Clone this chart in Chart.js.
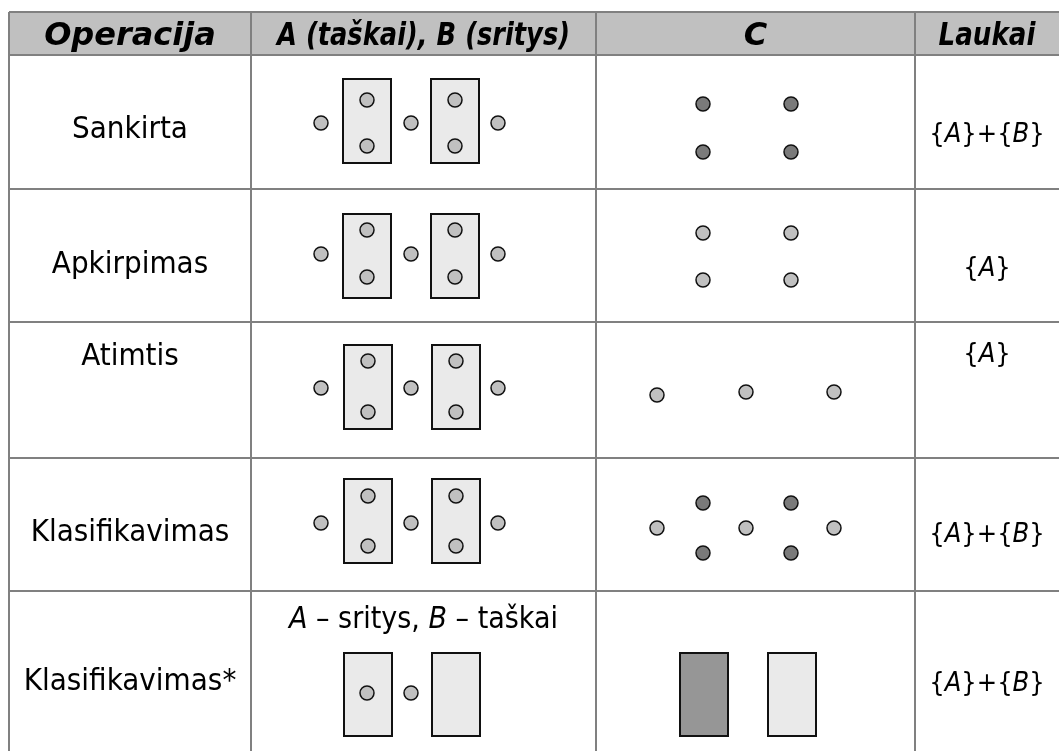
<!DOCTYPE html>
<html>
<head>
<meta charset="utf-8">
<script src="https://cdn.jsdelivr.net/npm/chart.js@4.4.0/dist/chart.umd.min.js"></script>
<style>
  html, body { margin: 0; background: #fff; }
  #wrap { width: 1059px; height: 751px; }
</style>
</head>
<body>
<div id="wrap"><canvas id="diagram"></canvas></div>
<script>
// table content
const headers = ['Operacija', 'A (taškai), B (sritys)', 'C', 'Laukai'];
const operations = ['Sankirta', 'Apkirpimas', 'Atimtis', 'Klasifikavimas', 'Klasifikavimas*'];
const fields = ['{A}+{B}', '{A}', '{A}', '{A}+{B}', '{A}+{B}'];
const note = 'A – sritys, B – taškai';

// table grid (diagram units)
const colEdges = [9, 251, 596, 915, 1059];
const rowEdges = [12, 55, 189, 322, 458, 591, 751];
const headerBaseline = 45;
const headerMaxWidths = [175, 293, 100, 97];
const opBaselines = [138, 273, 365, 541, 690];
const fieldBaselines = [142, 276, 362, 542, 691];
const noteBaseline = 628;

// points (x, y)
const lightPoints = [
    // Sankirta, A/B
    [321, 123], [411, 123], [498, 123], [367, 100], [367, 146], [455, 100], [455, 146],
    // Apkirpimas, A/B
    [321, 254], [411, 254], [498, 254], [367, 230], [367, 277], [455, 230], [455, 277],
    // Atimtis, A/B
    [321, 388], [411, 388], [498, 388], [368, 361], [368, 412], [456, 361], [456, 412],
    // Klasifikavimas, A/B
    [321, 523], [411, 523], [498, 523], [368, 496], [368, 546], [456, 496], [456, 546],
    // Klasifikavimas*, A/B
    [367, 693], [411, 693],
    // Apkirpimas, C
    [703, 233], [791, 233], [703, 280], [791, 280],
    // Atimtis, C
    [657, 395], [746, 392], [834, 392],
    // Klasifikavimas, C
    [657, 528], [746, 528], [834, 528]
];
const darkPoints = [
    [703, 104], [791, 104], [703, 152], [791, 152],
    [703, 503], [791, 503], [703, 553], [791, 553]
];

// regions [x0, y0, x1, y1]
const lightRects = [
    [343, 79, 391, 163], [431, 79, 479, 163],
    [343, 214, 391, 298], [431, 214, 479, 298],
    [344, 345, 392, 429], [432, 345, 480, 429],
    [344, 479, 392, 563], [432, 479, 480, 563],
    [344, 653, 392, 736], [432, 653, 480, 736],
    [768, 653, 816, 736]
];
const darkRects = [
    [680, 653, 728, 736]
];

const BODY_FONT = '"DejaVu Sans Condensed", "DejaVu Sans", sans-serif';
const HEAD_FONT = '"DejaVu Sans", sans-serif';

const toXY = arr => arr.map(p => ({ x: p[0], y: p[1] }));

// draws text where the letters A and B are italic
function drawRich(ctx, text, cx, y, size) {
    const runs = [];
    for (const ch of text) {
        const it = ch === 'A' || ch === 'B';
        if (runs.length && runs[runs.length - 1].it === it) runs[runs.length - 1].t += ch;
        else runs.push({ t: ch, it: it });
    }
    let total = 0;
    runs.forEach(r => {
        ctx.font = (r.it ? 'italic ' : '') + size + 'px ' + BODY_FONT;
        r.w = ctx.measureText(r.t).width;
        total += r.w;
    });
    let x = cx - total / 2;
    ctx.textAlign = 'left';
    runs.forEach(r => {
        ctx.font = (r.it ? 'italic ' : '') + size + 'px ' + BODY_FONT;
        ctx.fillText(r.t, x, y);
        x += r.w;
    });
}

const tablePlugin = {
    id: 'table',
    beforeDatasetsDraw(chart) {
        const { ctx, scales: { x, y } } = chart;
        const px = v => x.getPixelForValue(v);
        const py = v => y.getPixelForValue(v);
        ctx.save();

        // header band
        ctx.fillStyle = '#c0c0c0';
        ctx.fillRect(px(colEdges[0]), py(rowEdges[0]), px(colEdges[4]) - px(colEdges[0]), py(rowEdges[1]) - py(rowEdges[0]));

        // grid lines
        ctx.strokeStyle = '#808080';
        ctx.lineWidth = 2;
        ctx.beginPath();
        rowEdges.slice(0, -1).forEach(r => {
            ctx.moveTo(px(colEdges[0]), py(r));
            ctx.lineTo(px(colEdges[4]), py(r));
        });
        colEdges.slice(0, -1).forEach(c => {
            ctx.moveTo(px(c), py(rowEdges[0]));
            ctx.lineTo(px(c), py(rowEdges[rowEdges.length - 1]));
        });
        ctx.stroke();

        // regions
        const drawRects = (list, fill) => {
            ctx.fillStyle = fill;
            ctx.strokeStyle = '#111';
            ctx.lineWidth = 2;
            list.forEach(r => {
                const x0 = px(r[0]), y0 = py(r[1]);
                const w = px(r[2]) - x0, h = py(r[3]) - y0;
                ctx.fillRect(x0, y0, w, h);
                ctx.strokeRect(x0, y0, w, h);
            });
        };
        drawRects(lightRects, '#eaeaea');
        drawRects(darkRects, '#969696');
        ctx.restore();
    },
    afterDatasetsDraw(chart) {
        const { ctx, scales: { x, y } } = chart;
        const px = v => x.getPixelForValue(v);
        const py = v => y.getPixelForValue(v);
        ctx.save();
        ctx.fillStyle = '#000';
        ctx.textBaseline = 'alphabetic';

        // header texts
        ctx.font = 'italic bold 32px ' + HEAD_FONT;
        ctx.textAlign = 'center';
        headers.forEach((h, i) => {
            ctx.fillText(h, px((colEdges[i] + colEdges[i + 1]) / 2), py(headerBaseline), headerMaxWidths[i]);
        });

        // operation names
        ctx.font = '31px ' + BODY_FONT;
        operations.forEach((o, i) => {
            ctx.fillText(o, px((colEdges[0] + colEdges[1]) / 2), py(opBaselines[i]));
        });

        // fields
        fields.forEach((f, i) => {
            drawRich(ctx, f, px((colEdges[3] + colEdges[4]) / 2), py(fieldBaselines[i]), 27);
        });

        drawRich(ctx, note, px((colEdges[1] + colEdges[2]) / 2), py(noteBaseline), 30);
        ctx.restore();
    }
};

const pointStyle = {
    pointRadius: 7,
    pointBorderWidth: 1.5,
    pointBorderColor: '#111',
    showLine: false
};

new Chart(document.getElementById('diagram'), {
    type: 'scatter',
    data: {
        datasets: [
            Object.assign({ label: 'light', data: toXY(lightPoints), pointBackgroundColor: '#c0c0c0' }, pointStyle),
            Object.assign({ label: 'dark', data: toXY(darkPoints), pointBackgroundColor: '#7a7a7a' }, pointStyle)
        ]
    },
    options: {
        responsive: true,
        maintainAspectRatio: false,
        animation: false,
        devicePixelRatio: 1,
        layout: { padding: 0, autoPadding: false },
        scales: {
            x: { type: 'linear', min: 0, max: 1059, display: false },
            y: { type: 'linear', min: 0, max: 751, reverse: true, display: false }
        },
        plugins: {
            legend: { display: false },
            tooltip: { enabled: false }
        }
    },
    plugins: [tablePlugin]
});
</script>
</body>
</html>
